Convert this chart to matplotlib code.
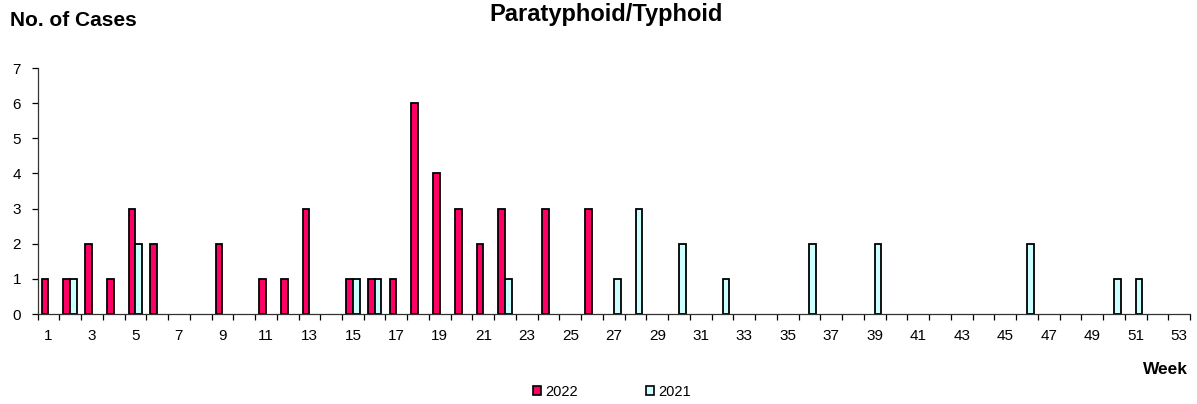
import matplotlib
matplotlib.use("Agg")
import matplotlib.pyplot as plt
from matplotlib.patches import Rectangle
import numpy as np

plt.rcParams['font.family'] = ['Liberation Sans', 'DejaVu Sans']

weeks = list(range(1, 54))
cases_2022 = {1: 1, 2: 1, 3: 2, 4: 1, 5: 3, 6: 2, 9: 2, 11: 1, 12: 1, 13: 3,
              15: 1, 16: 1, 17: 1, 18: 6, 19: 4, 20: 3, 21: 2, 22: 3, 24: 3, 26: 3}
cases_2021 = {2: 1, 5: 2, 15: 1, 16: 1, 22: 1, 27: 1, 28: 3, 30: 2, 32: 1,
              36: 2, 39: 2, 46: 2, 50: 1, 51: 1}
series_labels = ["2022", "2021"]
tick_labels = [str(w) for w in weeks if w % 2 == 1]

red = '#FF0066'
cyan = '#CCFFFF'

fig = plt.figure(figsize=(11.97, 4.04), dpi=100)
ax = fig.add_axes([37.6 / 1197, 1 - 314 / 404, (1190 - 37.6) / 1197, (314 - 68) / 404])

bw = 0.31
w22 = np.array(list(cases_2022.keys()), dtype=float)
v22 = list(cases_2022.values())
w21 = np.array(list(cases_2021.keys()), dtype=float)
v21 = list(cases_2021.values())
ax.bar(w22 - bw / 2, v22, width=bw, color=red, edgecolor='black', linewidth=1.3, zorder=3)
ax.bar(w21 + bw / 2, v21, width=bw, color=cyan, edgecolor='black', linewidth=1.3, zorder=3)

ax.set_xlim(0.5, 53.5)
ax.set_ylim(0, 7)
ax.set_yticks(range(0, 8))
ax.tick_params(axis='y', direction='out', length=4, width=0.9, pad=8, labelsize=11)

ax.set_xticks(np.arange(0.5, 54.0, 1.0))
ax.set_xticklabels([])
ax.set_xticks([w for w in weeks if w % 2 == 1], minor=True)
ax.set_xticklabels(tick_labels, minor=True)
ax.tick_params(axis='x', which='major', direction='out', length=4, width=0.9)
ax.tick_params(axis='x', which='minor', length=0, pad=11, labelsize=11)

for s in ['top', 'right']:
    ax.spines[s].set_visible(False)
for s in ['left', 'bottom']:
    ax.spines[s].set_linewidth(0.9)
    ax.spines[s].set_color('#333333')
    ax.spines[s].set_zorder(4)

fig.text(606 / 1197, 1 - 15 / 404, "Paratyphoid/Typhoid", ha='center', va='center',
         fontsize=17, fontweight='bold')
fig.text(10 / 1197, 1 - 20 / 404, "No. of Cases", ha='left', va='center',
         fontsize=15, fontweight='bold')
fig.text(1188 / 1197, 1 - 370 / 404, "Week", ha='right', va='center',
         fontsize=12.5, fontweight='bold')

handles = [Rectangle((0, 0), 1, 1, facecolor=red, edgecolor='black', linewidth=1.2),
           Rectangle((0, 0), 1, 1, facecolor=cyan, edgecolor='black', linewidth=1.2)]
fig.legend(handles, series_labels, loc='center', bbox_to_anchor=(612 / 1197, 1 - 392 / 404),
           ncol=2, frameon=False, fontsize=10.5, handlelength=0.55, handleheight=0.55,
           handletextpad=0.25, columnspacing=4.7)

fig.savefig("out.png", dpi=100)
